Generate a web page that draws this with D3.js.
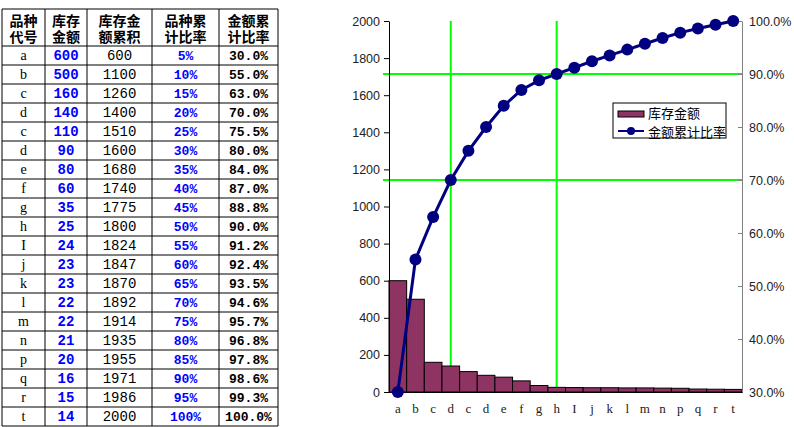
<!DOCTYPE html>
<html>
<head>
<meta charset="utf-8">
<script src="https://cdn.jsdelivr.net/npm/d3@7"></script>
<style>
  body { margin: 0; background: #fff; }
  svg { display: block; }
  .tick text { font-family: Arial, "Liberation Sans", sans-serif; font-size: 12.5px; fill: #222; }
  .cn { font-family: "Noto Sans CJK SC", sans-serif; }
  .mono { font-family: "Liberation Mono", "DejaVu Sans Mono", monospace; }
  .serif { font-family: "Liberation Serif", "DejaVu Serif", serif; }
</style>
</head>
<body>
<svg id="chart" width="794" height="427"></svg>
<script>
// data
const headers = [["品种", "代号"], ["库存", "金额"], ["库存金", "额累积"], ["品种累", "计比率"], ["金额累", "计比率"]];
const codes = ["a", "b", "c", "d", "c", "d", "e", "f", "g", "h", "I", "j", "k", "l", "m", "n", "p", "q", "r", "t"];
const amounts = [600, 500, 160, 140, 110, 90, 80, 60, 35, 25, 24, 23, 23, 22, 22, 21, 20, 16, 15, 14];
const cumAmounts = [600, 1100, 1260, 1400, 1510, 1600, 1680, 1740, 1775, 1800, 1824, 1847, 1870, 1892, 1914, 1935, 1955, 1971, 1986, 2000];
const itemPct = ["5%", "10%", "15%", "20%", "25%", "30%", "35%", "40%", "45%", "50%", "55%", "60%", "65%", "70%", "75%", "80%", "85%", "90%", "95%", "100%"];
const cumPct = [30.0, 55.0, 63.0, 70.0, 75.5, 80.0, 84.0, 87.0, 88.8, 90.0, 91.2, 92.4, 93.5, 94.6, 95.7, 96.8, 97.8, 98.6, 99.3, 100.0];
const leftTicks = [0, 200, 400, 600, 800, 1000, 1200, 1400, 1600, 1800, 2000];
const rightTicks = [30, 40, 50, 60, 70, 80, 90, 100];
const refIdx = [3, 9];
const refPct = [70, 90];
const legendLabels = ["库存金额", "金额累计比率"];

const svg = d3.select("#chart");

// ---- table ----
const colX = [2, 45, 87, 152, 219, 278];
const tableTop = 9, headH = 37, rowH = 19;
const rowY = i => tableTop + headH + i * rowH;
const tableBottom = rowY(codes.length);

const table = svg.append("g").attr("id", "table");

// header text, two lines per cell as tspans
headers.forEach((lines, c) => {
  const cx = (colX[c] + colX[c + 1]) / 2;
  const t = table.append("text")
    .attr("class", "cn")
    .attr("x", cx)
    .attr("y", tableTop + 17)
    .attr("text-anchor", "middle")
    .attr("font-size", 14)
    .attr("font-weight", "bold")
    .attr("fill", "#000");
  lines.forEach((s, k) => {
    t.append("tspan")
      .attr("x", cx)
      .attr("y", tableTop + 17 + k * 16)
      .text(s);
  });
});

const cols = [
  {vals: codes, color: "#000", weight: "normal", size: 14, cls: "serif"},
  {vals: amounts, color: "#0000ff", weight: "bold", size: 14, cls: "mono"},
  {vals: cumAmounts, color: "#000", weight: "normal", size: 14, cls: "mono"},
  {vals: itemPct, color: "#0000ff", weight: "bold", size: 13, cls: "mono"},
  {vals: cumPct.map(d => d.toFixed(1) + "%"), color: "#000", weight: "bold", size: 13, cls: "mono"}
];

cols.forEach((col, c) => {
  const cx = (colX[c] + colX[c + 1]) / 2;
  table.selectAll(null)
    .data(col.vals)
    .enter()
    .append("text")
      .attr("class", col.cls)
      .attr("x", cx)
      .attr("y", (d, i) => rowY(i) + 14)
      .attr("text-anchor", "middle")
      .attr("font-size", col.size)
      .attr("font-weight", col.weight)
      .attr("fill", col.color)
      .text(d => d);
});

// grid lines
table.selectAll("line.h")
  .data(d3.range(codes.length + 1))
  .enter()
  .append("line")
    .attr("x1", colX[0]).attr("x2", colX[colX.length - 1])
    .attr("y1", i => rowY(i)).attr("y2", i => rowY(i))
    .attr("stroke", "#000").attr("stroke-width", 1);

table.append("line")
  .attr("x1", colX[0]).attr("x2", colX[colX.length - 1])
  .attr("y1", tableTop).attr("y2", tableTop)
  .attr("stroke", "#000").attr("stroke-width", 1);

table.selectAll("line.v")
  .data(colX)
  .enter()
  .append("line")
    .attr("x1", d => d).attr("x2", d => d)
    .attr("y1", tableTop).attr("y2", tableBottom)
    .attr("stroke", "#000").attr("stroke-width", 1);

// ---- pareto chart ----
const plot = {left: 389, right: 742, top: 21, bottom: 392};

const x = d3.scaleBand()
  .domain(d3.range(codes.length))
  .range([plot.left, plot.right])
  .padding(0);

const yL = d3.scaleLinear().domain([0, 2000]).range([plot.bottom, plot.top]);
const yR = d3.scaleLinear().domain([30, 100]).range([plot.bottom, plot.top]);
const cx = i => x(i) + x.bandwidth() / 2;

const chart = svg.append("g").attr("id", "pareto");

// green reference lines
chart.selectAll("line.refv")
  .data(refIdx)
  .enter()
  .append("line")
    .attr("x1", cx).attr("x2", cx)
    .attr("y1", plot.top).attr("y2", plot.bottom)
    .attr("stroke", "#00ff00").attr("stroke-width", 2);

chart.selectAll("line.refh")
  .data(refPct)
  .enter()
  .append("line")
    .attr("x1", plot.left - 6).attr("x2", plot.right)
    .attr("y1", d => yR(d)).attr("y2", d => yR(d))
    .attr("stroke", "#00ff00").attr("stroke-width", 2);

// bars
chart.selectAll("rect.bar")
  .data(amounts)
  .enter()
  .append("rect")
    .attr("class", "bar")
    .attr("x", (d, i) => x(i))
    .attr("y", d => yL(d))
    .attr("width", x.bandwidth())
    .attr("height", d => plot.bottom - yL(d))
    .attr("fill", "#8e3462")
    .attr("stroke", "#000")
    .attr("stroke-width", 1);

// axes
const leftAxis = chart.append("g")
  .attr("transform", `translate(${plot.left},0)`)
  .call(d3.axisLeft(yL).tickValues(leftTicks).tickSize(5).tickPadding(4).tickSizeOuter(0)
    .tickFormat(d3.format("d")));
leftAxis.select(".domain").attr("stroke", "#000");

const rightAxis = chart.append("g")
  .attr("transform", `translate(${plot.right},0)`)
  .call(d3.axisRight(yR).tickValues(rightTicks).tickSize(-4).tickPadding(7).tickSizeOuter(0)
    .tickFormat(d => d.toFixed(1) + "%"));
rightAxis.selectAll(".domain, .tick line").attr("stroke", "#808080");

const bottomAxis = chart.append("g")
  .attr("transform", `translate(0,${plot.bottom})`)
  .call(d3.axisBottom(x).tickSize(0).tickPadding(12).tickFormat(i => codes[i]));
bottomAxis.select(".domain").attr("stroke", "#000");
bottomAxis.selectAll(".tick text")
  .style("font-family", "'Liberation Serif', serif")
  .style("font-size", "13px")
  .attr("fill", "#000");

// cumulative line
const line = d3.line()
  .x((d, i) => cx(i))
  .y(d => yR(d));

chart.append("path")
  .datum(cumPct)
  .attr("d", line)
  .attr("fill", "none")
  .attr("stroke", "#000080")
  .attr("stroke-width", 3);

chart.selectAll("circle.pt")
  .data(cumPct)
  .enter()
  .append("circle")
    .attr("cx", (d, i) => cx(i))
    .attr("cy", d => yR(d))
    .attr("r", 6)
    .attr("fill", "#000080");

// legend
const legend = chart.append("g").attr("transform", "translate(613,103)");
legend.append("rect")
  .attr("width", 113).attr("height", 35)
  .attr("fill", "#fff").attr("stroke", "#000").attr("stroke-width", 1);
legend.append("rect")
  .attr("x", 5).attr("y", 8).attr("width", 26).attr("height", 6)
  .attr("fill", "#8e3462").attr("stroke", "#000").attr("stroke-width", 1);
legend.append("line")
  .attr("x1", 5).attr("x2", 31).attr("y1", 28).attr("y2", 28)
  .attr("stroke", "#000080").attr("stroke-width", 2);
legend.append("circle")
  .attr("cx", 18).attr("cy", 28).attr("r", 4).attr("fill", "#000080");
legend.selectAll("text")
  .data(legendLabels)
  .enter()
  .append("text")
    .attr("class", "cn")
    .attr("x", 35)
    .attr("y", (d, i) => 15 + i * 19)
    .attr("font-size", 13)
    .attr("fill", "#000")
    .text(d => d);
</script>
</body>
</html>
